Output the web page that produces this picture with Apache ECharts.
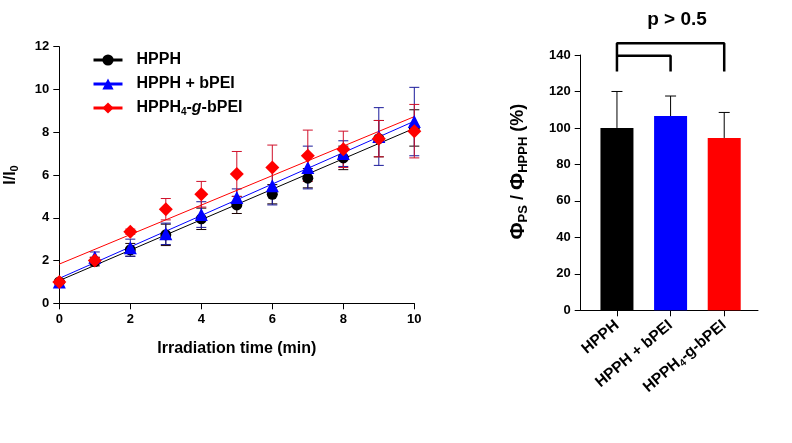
<!DOCTYPE html>
<html><head><meta charset="utf-8">
<script src="https://cdn.jsdelivr.net/npm/echarts@6/dist/echarts.min.js"></script>
<style>html,body{margin:0;padding:0;background:#fff}#c{width:792px;height:443px}</style>
</head><body><div id="c"></div>
<script>
// ---- data ----
const times = [0,1,2,3,4,5,6,7,8,9,10];
const seriesNames = ['HPPH','HPPH + bPEI','HPPH4-g-bPEI'];
const hpph      = [1.0,1.95,2.5,3.2,3.95,4.6,5.1,5.85,6.8,7.7,8.2];
const hpphErr   = [0.05,0.2,0.3,0.5,0.5,0.4,0.45,0.45,0.55,0.85,0.85];
const hpphBpei  = [1.0,2.15,2.6,3.25,4.15,4.95,5.5,6.35,7.0,7.8,8.5];
const hpphBpeiErr = [0.05,0.25,0.4,0.5,0.6,0.4,0.9,1.0,0.6,1.35,1.6];
const graft     = [1.0,2.0,3.35,4.4,5.1,6.05,6.35,6.9,7.2,7.7,8.05];
const graftErr  = [0.05,0.15,0.12,0.5,0.6,1.05,1.05,1.2,0.85,0.85,1.25];
const barCats = ['HPPH','HPPH + bPEI','HPPH4-g-bPEI'];
const barVals = [100,106.5,94.5];
const barErr  = [20,11,14];
const yTicksLeft = {min:0,max:12,interval:2};
const xTicksLeft = {min:0,max:10,interval:2};
const yTicksRight = {min:0,max:140,interval:20};
const bracketOuter = [[1,131],[1,146.5],[3,146.5],[3,131]];
const bracketInner = [[1,139.6],[2,139.6],[2,131]];
const pText = 'p > 0.5';

// ---- helpers ----
function fit(xs, ys){
  const n=xs.length; let sx=0,sy=0,sxx=0,sxy=0;
  for(let i=0;i<n;i++){sx+=xs[i];sy+=ys[i];sxx+=xs[i]*xs[i];sxy+=xs[i]*ys[i];}
  const b=(n*sxy-sx*sy)/(n*sxx-sx*sx); const a=(sy-b*sx)/n;
  return [[xs[0],a+b*xs[0]],[xs[n-1],a+b*xs[n-1]]];
}
const F='Liberation Sans, Arial, sans-serif';
const colors=['#000000','#0000ff','#ff0000'];
const errColors=['#1a0000','#1a1a9a','#d0102a'];
function errSeries(xs, ys, es, color, xi, yi, capW, upperOnly){
  return {type:'custom', xAxisIndex:xi, yAxisIndex:yi, silent:true, z:1,
    data: xs.map((x,i)=>[x, ys[i], es[i]]),
    renderItem:(p,api)=>{
      const x=api.value(0), y=api.value(1), e=api.value(2);
      const top=api.coord([x,y+e]), bot=api.coord([x,upperOnly?y:y-e]);
      const h=capW/2;
      const st={stroke:color,lineWidth:1};
      const ch=[{type:'line',shape:{x1:top[0],y1:top[1],x2:bot[0],y2:bot[1]},style:st},
        {type:'line',shape:{x1:top[0]-h,y1:top[1],x2:top[0]+h,y2:top[1]},style:st}];
      if(!upperOnly) ch.push({type:'line',shape:{x1:bot[0]-h,y1:bot[1],x2:bot[0]+h,y2:bot[1]},style:st});
      return {type:'group',children:ch};
    }};
}
function mkRich(sz, subSz, subPad, italic){
  return {
    t:{fontFamily:F,fontWeight:'bold',fontSize:sz,color:'#000'},
    s:{fontFamily:F,fontWeight:'bold',fontSize:subSz,color:'#000',padding:[subPad,0,0,0]},
    i:{fontFamily:F,fontWeight:'bold',fontStyle:italic?'italic':'normal',fontSize:sz,color:'#000'}
  };
}
function nameFmt(n){ return n==='HPPH4-g-bPEI' ? '{t|HPPH}{s|4}{t|-}{i|g}{t|-bPEI}' : '{t|'+n+'}'; }

const pointData=[hpph,hpphBpei,graft], errData=[hpphErr,hpphBpeiErr,graftErr];
const symbols=['circle','triangle','diamond'], sizes=[11,13,14];
const series=[];
for(let k=0;k<3;k++){
  series.push({type:'line', name:seriesNames[k], xAxisIndex:0,yAxisIndex:0, z:3+k,
    data:times.map((t,i)=>[t,pointData[k][i]]), symbol:symbols[k], symbolSize:sizes[k],
    lineStyle:{width:0,opacity:0}, itemStyle:{color:colors[k]}});
}
for(let k=0;k<3;k++){
  series.push({type:'line', xAxisIndex:0,yAxisIndex:0, z:2,
    data:fit(times,pointData[k]), showSymbol:false, symbol:'none',
    lineStyle:{color:colors[k],width:1}, silent:true});
}
for(let k=0;k<3;k++) series.push(errSeries(times,pointData[k],errData[k],errColors[k],0,0,10,false));
// bars
series.push({type:'bar', xAxisIndex:1,yAxisIndex:1, barWidth:33, z:2,
  data:barVals.map((v,i)=>({value:[i+1,v], itemStyle:{color:colors[i]}}))});
series.push(errSeries([1,2,3],barVals,barErr,'#000',1,1,11,true));
series.push({type:'line',xAxisIndex:1,yAxisIndex:1,data:bracketOuter,symbol:'none',clip:false,
  lineStyle:{color:'#000',width:2.5},silent:true});
series.push({type:'line',xAxisIndex:1,yAxisIndex:1,data:bracketInner,symbol:'none',clip:false,
  lineStyle:{color:'#000',width:2.5},silent:true});

const axLabel={fontFamily:F,fontWeight:'bold',fontSize:13,color:'#000'};
const axLine={lineStyle:{color:'#000',width:1}};
const tick={show:true,length:6,lineStyle:{color:'#000'}};
const option={
  animation:false,
  title:{text:pText,left:672,top:5,textAlign:'center',textStyle:{fontFamily:F,fontWeight:'bold',fontSize:19,color:'#000'}},
  legend:{orient:'vertical',left:87,top:47,itemWidth:29,itemHeight:14,itemGap:8,
    data:seriesNames, selectedMode:false,
    lineStyle:{width:3,opacity:1},
    formatter:nameFmt, textStyle:{rich:mkRich(16,10,8,true),padding:[0,0,0,9]}},
  grid:[{left:59.3,top:46.7,width:355,height:256.6},{left:580.7,top:55,width:177.3,height:255.3}],
  xAxis:[
    {type:'value',gridIndex:0,min:xTicksLeft.min,max:xTicksLeft.max,interval:xTicksLeft.interval,
      axisLine:axLine,axisTick:tick,splitLine:{show:false},
      axisLabel:Object.assign({margin:10},axLabel),
      name:'Irradiation time (min)',nameLocation:'middle',nameGap:37,
      nameTextStyle:{fontFamily:F,fontWeight:'bold',fontSize:16,color:'#000'}},
    {type:'value',gridIndex:1,min:0.324,max:3.63,
      axisLine:axLine,axisTick:Object.assign({customValues:[1,2,3]},tick),splitLine:{show:false},
      axisLabel:{customValues:[1,2,3],rotate:40,margin:13,formatter:v=>nameFmt(barCats[Math.round(v)-1]),
        rich:mkRich(15.5,10,8,false)}}
  ],
  yAxis:[
    {type:'value',gridIndex:0,min:yTicksLeft.min,max:yTicksLeft.max,interval:yTicksLeft.interval,
      axisLine:Object.assign({show:true},axLine),axisTick:tick,splitLine:{show:false},
      axisLabel:Object.assign({margin:10},axLabel),
      name:'{t|I/I}{s|0}',nameLocation:'middle',nameGap:39,nameRotate:90,
      nameTextStyle:{rich:{t:{fontFamily:F,fontWeight:'bold',fontSize:16,color:'#000'},s:{fontFamily:F,fontWeight:'bold',fontSize:11,color:'#000',padding:[8,0,0,0]}}}},
    {type:'value',gridIndex:1,min:yTicksRight.min,max:yTicksRight.max,interval:yTicksRight.interval,
      axisLine:Object.assign({show:true},axLine),axisTick:tick,splitLine:{show:false},
      axisLabel:Object.assign({margin:10},axLabel),
      name:'{f|Φ}{s|PS}{t| / }{f|Φ}{s|HPPH}{t| (%)}',nameLocation:'middle',nameGap:51,nameRotate:90,
      nameTextStyle:{padding:[0,0,0,22],rich:{f:{fontFamily:F,fontWeight:'bold',fontSize:21,color:'#000'},
        t:{fontFamily:F,fontWeight:'bold',fontSize:18,color:'#000'},
        s:{fontFamily:F,fontWeight:'bold',fontSize:13,color:'#000',padding:[10,0,0,0]}}}}
  ],
  series:series
};
echarts.init(document.getElementById('c'),null,{renderer:'canvas'}).setOption(option);
</script></body></html>
